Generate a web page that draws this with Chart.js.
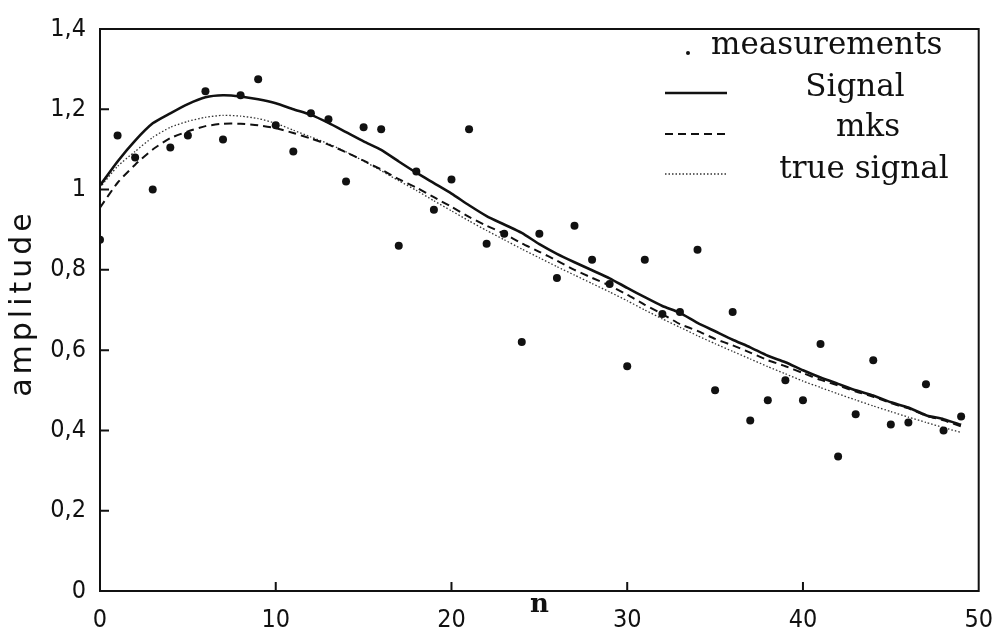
<!DOCTYPE html>
<html>
<head>
<meta charset="utf-8">
<script src="https://cdn.jsdelivr.net/npm/chart.js@4.4.1/dist/chart.umd.min.js"></script>
<style>
  html, body { margin: 0; padding: 0; background: #fff; }
  #wrap { width: 1007px; height: 643px; }
</style>
</head>
<body>
<div id="wrap"><canvas id="chart" width="1007" height="643"></canvas></div>
<script>
// -------------------- Data --------------------
const n = [0, 1, 2, 3, 4, 5, 6, 7, 8, 9, 10, 11, 12, 13, 14, 15, 16, 17, 18, 19,
           20, 21, 22, 23, 24, 25, 26, 27, 28, 29, 30, 31, 32, 33, 34, 35, 36, 37, 38, 39,
           40, 41, 42, 43, 44, 45, 46, 47, 48, 49];

const measurements = [0.875, 1.135, 1.08, 1.0, 1.105, 1.135, 1.245, 1.125, 1.235, 1.275,
                      1.16, 1.095, 1.19, 1.175, 1.02, 1.155, 1.15, 0.86, 1.045, 0.95,
                      1.025, 1.15, 0.865, 0.89, 0.62, 0.89, 0.78, 0.91, 0.825, 0.765,
                      0.56, 0.825, 0.69, 0.695, 0.85, 0.5, 0.695, 0.425, 0.475, 0.525,
                      0.475, 0.615, 0.335, 0.44, 0.575, 0.415, 0.42, 0.515, 0.4, 0.435];

const signal = [1.01, 1.07, 1.122, 1.165, 1.19, 1.213, 1.23, 1.235, 1.232, 1.225,
                1.215, 1.2, 1.186, 1.166, 1.143, 1.12, 1.099, 1.07, 1.042, 1.016,
                0.99, 0.961, 0.934, 0.913, 0.892, 0.864, 0.84, 0.819, 0.799, 0.779,
                0.755, 0.732, 0.71, 0.693, 0.668, 0.647, 0.626, 0.607, 0.586, 0.57,
                0.55, 0.532, 0.516, 0.5, 0.487, 0.47, 0.457, 0.438, 0.428, 0.414];

const mks = [0.955, 1.017, 1.062, 1.1, 1.128, 1.145, 1.158, 1.164, 1.164, 1.16,
             1.153, 1.141, 1.127, 1.112, 1.093, 1.072, 1.05, 1.026, 1.005, 0.981,
             0.957, 0.932, 0.91, 0.89, 0.866, 0.845, 0.823, 0.8, 0.78, 0.761,
             0.738, 0.713, 0.69, 0.665, 0.648, 0.628, 0.612, 0.594, 0.575, 0.56,
             0.543, 0.526, 0.512, 0.497, 0.484, 0.468, 0.455, 0.437, 0.425, 0.41];

const trueSignal = [1.005, 1.058, 1.095, 1.13, 1.155, 1.17, 1.18, 1.185, 1.183, 1.177,
                    1.165, 1.148, 1.131, 1.114, 1.094, 1.071, 1.047, 1.022, 0.998, 0.972,
                    0.947, 0.922, 0.898, 0.875, 0.852, 0.83, 0.808, 0.787, 0.766, 0.745,
                    0.723, 0.7, 0.678, 0.657, 0.636, 0.616, 0.597, 0.578, 0.559, 0.541,
                    0.523, 0.507, 0.491, 0.476, 0.461, 0.447, 0.433, 0.42, 0.407, 0.395];

const xTicks = [0, 10, 20, 30, 40, 50];
const yTicks = [0, 0.2, 0.4, 0.6, 0.8, 1, 1.2, 1.4];
const yTickText = ['0', '0,2', '0,4', '0,6', '0,8', '1', '1,2', '1,4'];

const ink = '#111';
const tickFont = { family: "'Liberation Sans Narrow', 'DejaVu Sans Condensed', sans-serif", size: 25 };

const toPoints = arr => n.map((v, i) => ({ x: v, y: arr[i] }));

// -------------------- Frame, inward ticks, titles, legend --------------------
const paperLook = {
    id: 'paperLook',
    afterDatasetsDraw(chart) {
        const { ctx, chartArea: a, scales: { x, y } } = chart;
        ctx.save();
        ctx.strokeStyle = ink;
        ctx.fillStyle = ink;
        ctx.lineWidth = 2;
        ctx.strokeRect(a.left, a.top, a.width, a.height);

        // ticks point into the plot
        ctx.beginPath();
        yTicks.slice(1, -1).forEach(v => {
            const py = y.getPixelForValue(v);
            ctx.moveTo(a.left, py);
            ctx.lineTo(a.left + 9, py);
        });
        xTicks.slice(1, -1).forEach(v => {
            const px = x.getPixelForValue(v);
            ctx.moveTo(px, a.bottom);
            ctx.lineTo(px, a.bottom - 9);
        });
        ctx.stroke();

        // axis titles
        ctx.font = "bold 26px 'DejaVu Serif', serif";
        ctx.textAlign = 'center';
        ctx.textBaseline = 'middle';
        ctx.fillText('n', x.getPixelForValue(25), a.bottom + 14);

        ctx.save();
        ctx.translate(23, 303);
        ctx.rotate(-Math.PI / 2);
        ctx.font = "30px 'DejaVu Sans', sans-serif";
        ctx.letterSpacing = '4px';
        ctx.fillText('amplitude', 0, 0);
        ctx.restore();

        // legend
        ctx.font = "31px 'DejaVu Serif', serif";
        ctx.beginPath();
        ctx.arc(688, 53, 2, 0, Math.PI * 2);
        ctx.fill();
        ctx.textAlign = 'left';
        ctx.fillText('measurements', 711, 46);

        const rows = [
            { label: 'Signal', ds: chart.data.datasets[1], y: 93, ty: 88, cx: 855 },
            { label: 'mks', ds: chart.data.datasets[2], y: 134, ty: 128, cx: 868 },
            { label: 'true signal', ds: chart.data.datasets[3], y: 174, ty: 170, cx: 864 }
        ];
        rows.forEach(r => {
            ctx.save();
            ctx.strokeStyle = r.ds.borderColor;
            ctx.lineWidth = r.ds.borderWidth;
            ctx.setLineDash(r.ds.borderDash || []);
            ctx.beginPath();
            ctx.moveTo(665, r.y);
            ctx.lineTo(727, r.y);
            ctx.stroke();
            ctx.restore();
            ctx.textAlign = 'center';
            ctx.fillText(r.label, r.cx, r.ty);
        });
        ctx.restore();
    }
};

// -------------------- Chart --------------------
new Chart(document.getElementById('chart'), {
    type: 'line',
    data: {
        datasets: [
            {
                label: 'measurements',
                data: toPoints(measurements),
                showLine: false,
                pointRadius: 4,
                pointBackgroundColor: ink,
                pointBorderWidth: 0,
                borderColor: ink
            },
            {
                label: 'Signal',
                data: toPoints(signal),
                borderColor: ink,
                borderWidth: 2.6,
                pointRadius: 0,
                tension: 0.2
            },
            {
                label: 'mks',
                data: toPoints(mks),
                borderColor: ink,
                borderWidth: 2,
                borderDash: [8, 5],
                pointRadius: 0,
                tension: 0.2
            },
            {
                label: 'true signal',
                data: toPoints(trueSignal),
                borderColor: '#333',
                borderWidth: 1.3,
                borderDash: [1.5, 2],
                pointRadius: 0,
                tension: 0.2
            }
        ]
    },
    options: {
        responsive: false,
        animation: false,
        devicePixelRatio: 1,
        layout: { padding: { top: 22, right: 22, left: 0, bottom: 0 } },
        plugins: {
            legend: { display: false },
            tooltip: { enabled: false }
        },
        scales: {
            x: {
                type: 'linear',
                min: 0,
                max: 50,
                afterFit: s => { s.height = 52; },
                afterBuildTicks: s => { s.ticks = xTicks.map(v => ({ value: v })); },
                grid: { display: false, drawTicks: false },
                border: { display: false },
                ticks: { color: ink, font: tickFont, padding: 14, maxRotation: 0 }
            },
            y: {
                min: 0,
                max: 1.4,
                afterFit: s => { s.width = 100; },
                afterBuildTicks: s => { s.ticks = yTicks.map(v => ({ value: v })); },
                grid: { display: false, drawTicks: false },
                border: { display: false },
                ticks: {
                    color: ink,
                    font: tickFont,
                    padding: 14,
                    callback: (value, i) => yTickText[i]
                }
            }
        }
    },
    plugins: [paperLook]
});
</script>
</body>
</html>
